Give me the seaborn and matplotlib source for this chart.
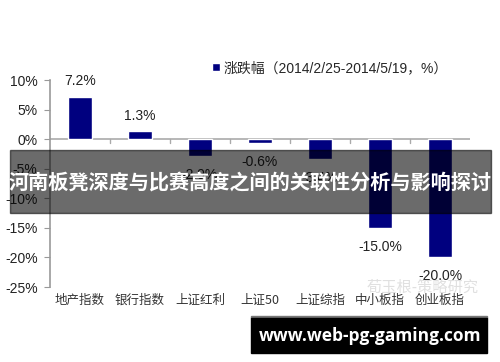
import pandas as pd
import matplotlib.pyplot as plt
import matplotlib.ticker as mticker
from matplotlib.patches import Rectangle
import seaborn as sns

# ── Datos ─────────────────────────────────────────────
categorias = ['地产指数', '银行指数', '上证红利', '上证50', '上证综指', '中小板指', '创业板指']
valores = [7.2, 1.3, -2.9, -0.6, -3.4, -15.0, -20.0]
leyenda = '涨跌幅（2014/2/25-2014/5/19，%）'
titulo_banda = '河南板凳深度与比赛高度之间的关联性分析与影响探讨'
marca_agua = '荀玉根-策略研究'
url = 'www.web-pg-gaming.com'

sns.set_theme(style='white')
plt.rcParams['font.family'] = ['Liberation Sans', 'Noto Sans CJK SC', 'DejaVu Sans']

df = pd.DataFrame({'categoria': categorias, 'valor': valores})
azul = '#00007f'

fig = plt.figure(figsize=(5, 3.62), dpi=100)
ax = fig.add_axes([0.10, 0.207, 0.84, 0.572])
ax.patch.set_alpha(0)

sns.barplot(data=df, x='categoria', y='valor', color=azul, width=0.4,
            saturation=1, ax=ax, label=leyenda, zorder=2)

ax.set_ylim(-25, 10)
ax.set_xlim(-0.5, len(categorias) - 0.5)
ax.set_yticks(range(-25, 11, 5))
ax.yaxis.set_major_formatter(mticker.FuncFormatter(lambda v, _: f'{v:.0f}%'))
ax.set_xlabel('')
ax.set_ylabel('')
ax.tick_params(axis='y', labelsize=10, colors='#999999', labelcolor='#222222',
               length=4, width=0.8, left=True, direction='out', pad=5)
ax.tick_params(axis='x', bottom=False, labelsize=9, labelcolor='#333333', pad=-1)
for lab in ax.get_xticklabels():
    lab.set_family(['Noto Sans CJK SC', 'DejaVu Sans'])

for s in ['top', 'right', 'bottom']:
    ax.spines[s].set_visible(False)
ax.spines['left'].set_color('#999999')
ax.spines['left'].set_linewidth(1.2)

# línea de cero con marcas
ax.axhline(0, color='#aaaaaa', lw=1.2, zorder=1)
for b in range(1, len(categorias)):
    ax.plot([b - 0.5, b - 0.5], [0, -0.7], color='#aaaaaa', lw=1, zorder=1)

# marca de agua (debajo de las etiquetas)
fig.text(423 / 500, 1 - 287 / 362, marca_agua, ha='center', va='center', fontsize=11,
         color='#e0e0e0', family=['Noto Sans CJK SC'], zorder=-1)

# etiquetas de datos
for i, v in enumerate(valores):
    if v >= 0:
        ax.text(i, v + 1.5, f'{v:.1f}%', ha='center', va='bottom', fontsize=10, color='#222222')
    else:
        ax.text(i, v - 2.0, f'{v:.1f}%', ha='center', va='top', fontsize=10, color='#222222')

ax.legend(loc='upper left', bbox_to_anchor=(212 / 500, 1 - 61 / 362), bbox_transform=fig.transFigure,
          frameon=False, handlelength=0.55, handleheight=0.55, borderpad=0, borderaxespad=0,
          handletextpad=0.3, prop={'family': ['Liberation Sans', 'Noto Sans CJK SC'], 'size': 10})

# banda superpuesta
fig.patches.append(Rectangle((10 / 500, 1 - 213 / 362), 481 / 500, 63 / 362,
                             transform=fig.transFigure, color='black', alpha=0.58, zorder=5))
fig.text(0.5, 1 - 182 / 362, titulo_banda, ha='center', va='center', fontsize=14.5,
         fontweight='bold', color='white', family=['Noto Sans CJK SC'], zorder=6)

# caja inferior
fig.patches.append(Rectangle((251 / 500, 1 - 318 / 362), 236 / 500, 2 / 362,
                             transform=fig.transFigure, color='#777777', zorder=5))
fig.patches.append(Rectangle((251 / 500, 1 - 353 / 362), 236 / 500, 35 / 362,
                             transform=fig.transFigure, color='black', zorder=5))
fig.text(370 / 500, 1 - 336 / 362, url, ha='center', va='center', fontsize=12.5,
         fontweight='bold', color='white', family=['Open Sans', 'DejaVu Sans'], zorder=6)

plt.savefig('out.png', dpi=100)
